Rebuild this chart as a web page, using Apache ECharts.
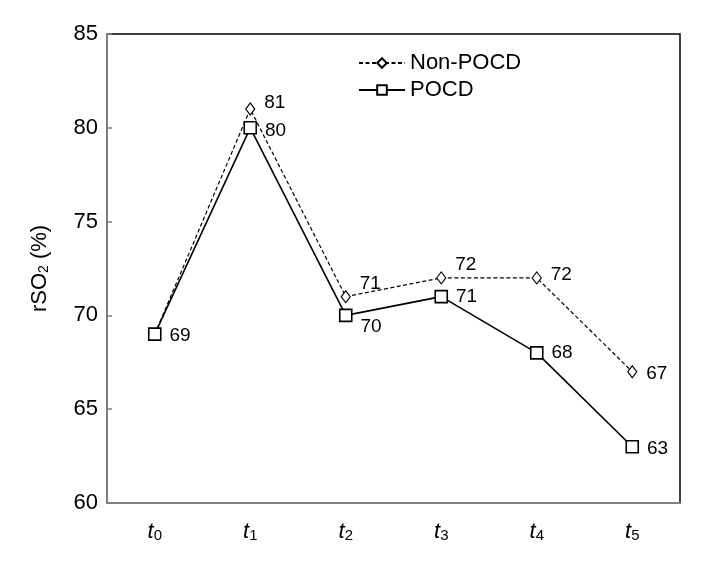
<!DOCTYPE html>
<html>
<head>
<meta charset="utf-8">
<script src="https://cdn.jsdelivr.net/npm/echarts@6/dist/echarts.min.js"></script>
<style>html,body{margin:0;padding:0;background:#fff;}#c{width:715px;height:566px;}</style>
</head>
<body>
<div id="c"></div>
<script>
const categories = ['0', '1', '2', '3', '4', '5'];
const nonPOCD = [69, 81, 71, 72, 72, 67];
const pocd = [69, 80, 70, 71, 68, 63];
const yMin = 60, yMax = 85, yInterval = 5;

const FONT = 'Liberation Sans, Arial, Helvetica, sans-serif';
// label vertical offsets (layout only)
const nonOffsets = [null, [0, -6], [0, -13], [0, -13], [0, -3], [0, 2]];
const pocdOffsets = [[0, 2], [0, 3], [0, 11], [0, 0], [0, 0], [0, 2]];

function buildData(values, offsets) {
  return values.map((v, i) => {
    const o = offsets[i];
    if (!o) return { value: v, label: { show: false } };
    return { value: v, label: { offset: o } };
  });
}

const chart = echarts.init(document.getElementById('c'), null, { renderer: 'canvas' });
chart.setOption({
  animation: false,
  backgroundColor: '#fff',
  textStyle: { fontFamily: FONT },
  grid: {
    left: 107, right: 35, top: 34, bottom: 63,
    show: true, borderColor: '#000', borderWidth: 1.5, backgroundColor: 'transparent'
  },
  legend: {
    orient: 'vertical',
    left: 358, top: 52,
    padding: 0,
    itemWidth: 46, itemHeight: 12, itemGap: 5,
    textStyle: { fontFamily: FONT, fontSize: 22, color: '#000' },
    data: ['Non-POCD', 'POCD']
  },
  xAxis: {
    type: 'category',
    data: categories,
    boundaryGap: true,
    axisLine: { lineStyle: { color: '#808080', width: 2 } },
    axisTick: { inside: true, length: 6, lineStyle: { color: '#808080', width: 1.5 } },
    splitLine: { show: false },
    axisLabel: {
      margin: 18,
      formatter: v => '{t|t}{s|' + v + '}',
      rich: {
        t: { fontFamily: FONT, fontStyle: 'italic', fontSize: 22, color: '#000', verticalAlign: 'bottom' },
        s: { fontFamily: FONT, fontSize: 15, color: '#000', verticalAlign: 'bottom' }
      }
    }
  },
  yAxis: {
    type: 'value',
    min: yMin, max: yMax, interval: yInterval,
    name: 'rSO{s|2} (%)',
    nameLocation: 'middle',
    nameGap: 56,
    nameRotate: 90,
    nameTextStyle: {
      fontFamily: FONT, fontSize: 22, color: '#000',
      rich: {
        s: { fontFamily: FONT, fontSize: 14, color: '#000', verticalAlign: 'bottom' }
      }
    },
    axisLine: { show: true, lineStyle: { color: '#808080', width: 2 } },
    axisTick: { show: true, inside: true, length: 5, lineStyle: { color: '#808080', width: 1.5 } },
    splitLine: { show: false },
    axisLabel: { margin: 9, fontFamily: FONT, fontSize: 22, color: '#000' }
  },
  series: [
    {
      name: 'Non-POCD',
      type: 'line',
      data: buildData(nonPOCD, nonOffsets),
      symbol: 'diamond',
      symbolSize: [9, 12],
      lineStyle: { color: '#000', width: 1.2, type: [4, 2.5] },
      itemStyle: { color: '#fff', borderColor: '#000', borderWidth: 1.2 },
      label: { show: true, position: 'right', distance: 9, fontFamily: FONT, fontSize: 19, color: '#000' },
      emphasis: { disabled: true }
    },
    {
      name: 'POCD',
      type: 'line',
      data: buildData(pocd, pocdOffsets),
      symbol: 'rect',
      symbolSize: 12,
      lineStyle: { color: '#000', width: 1.6 },
      itemStyle: { color: '#fff', borderColor: '#000', borderWidth: 1.6 },
      label: { show: true, position: 'right', distance: 8, fontFamily: FONT, fontSize: 19, color: '#000' },
      emphasis: { disabled: true }
    }
  ]
});
</script>
</body>
</html>
